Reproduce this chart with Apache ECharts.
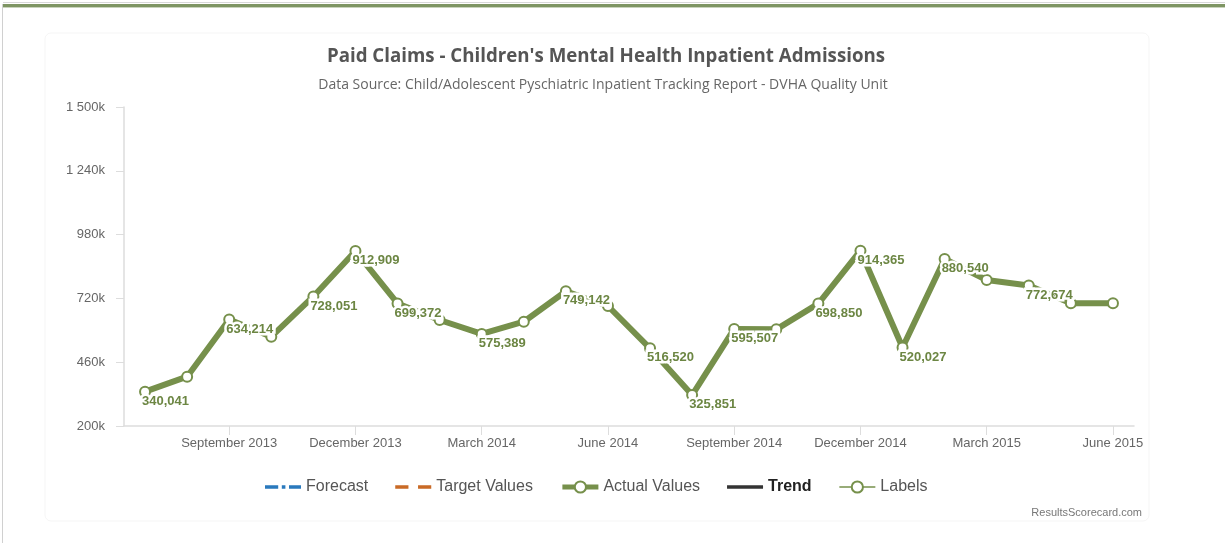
<!DOCTYPE html>
<html>
<head>
<meta charset="utf-8">
<title>Paid Claims - Children's Mental Health Inpatient Admissions</title>
<script src="https://cdn.jsdelivr.net/npm/echarts@6/dist/echarts.min.js"></script>
<style>
  html, body { margin: 0; padding: 0; background: #ffffff; }
  #chart { width: 1225px; height: 543px; }
</style>
</head>
<body>
<div id="chart"></div>
<script>
// Monthly paid claims, July 2013 - June 2015
const months = [
  'July 2013', 'August 2013', 'September 2013', 'October 2013', 'November 2013', 'December 2013',
  'January 2014', 'February 2014', 'March 2014', 'April 2014', 'May 2014', 'June 2014',
  'July 2014', 'August 2014', 'September 2014', 'October 2014', 'November 2014', 'December 2014',
  'January 2015', 'February 2015', 'March 2015', 'April 2015', 'May 2015', 'June 2015'
];

const actualValues = [
  340041, 401000, 634214, 564000, 728051, 912909,
  699372, 632000, 575389, 625000, 749142, 689000,
  516520, 325851, 595507, 594000, 698850, 914365,
  520027, 880540, 795000, 772674, 700000, 700000
];

// Months that carry a value label (null = no label)
const labelValues = [
  340041, null, 634214, null, 728051, 912909,
  699372, null, 575389, null, 749142, null,
  516520, 325851, 595507, null, 698850, 914365,
  520027, 880540, null, 772674, null, null
];

const forecastValues = [];
const targetValues = [];
const trendValues = [];

const yTicks = { min: 200000, max: 1500000, step: 260000 };

const GREEN = '#76904b';
const LABEL_GREEN = '#6c8643';

function yLabel(v) {
  const k = Math.round(v / 1000);
  if (k >= 1000) {
    return Math.floor(k / 1000) + ' ' + String(k % 1000).padStart(3, '0') + 'k';
  }
  return k + 'k';
}

const chart = echarts.init(document.getElementById('chart'), null, { renderer: 'canvas' });

const option = {
  backgroundColor: '#ffffff',
  animation: false,
  title: [
    {
      text: "Paid Claims - Children's Mental Health Inpatient Admissions",
      left: 601, top: 42, textAlign: 'center',
      textStyle: { fontFamily: 'Open Sans', fontWeight: 'bold', fontSize: 18.7, color: '#555555' }
    },
    {
      text: 'Data Source: Child/Adolescent Pyschiatric Inpatient Tracking Report - DVHA Quality Unit',
      left: 598, top: 73, textAlign: 'center',
      textStyle: { fontFamily: 'Open Sans', fontWeight: 'normal', fontSize: 14, color: '#666666' }
    },
    {
      text: 'ResultsScorecard.com',
      left: 1137, top: 502, textAlign: 'right',
      textStyle: { fontFamily: 'Liberation Sans', fontWeight: 'normal', fontSize: 11, color: '#777777' }
    }
  ],
  graphic: [
    { type: 'rect', shape: { x: 3, y: 2, width: 1222, height: 1 }, style: { fill: '#d8d8d8' }, silent: true },
    { type: 'rect', shape: { x: 3, y: 4, width: 1222, height: 3 }, style: { fill: '#7e9563' }, silent: true },
    { type: 'rect', shape: { x: 3, y: 7, width: 1222, height: 1 }, style: { fill: '#c9d3bc' }, silent: true },
    { type: 'rect', shape: { x: 2, y: 4, width: 1, height: 539 }, style: { fill: '#d0d0d0' }, silent: true },
    {
      type: 'rect', shape: { x: 45, y: 33, width: 1104, height: 488, r: 6 },
      style: { fill: 'none', stroke: 'rgba(0,0,0,0.04)', lineWidth: 1 }, silent: true, z: -1
    }
  ],
  legend: {
    left: 260,
    top: 474,
    itemWidth: 36,
    itemHeight: 14,
    itemGap: 27,
    textStyle: { fontFamily: 'Liberation Sans', fontSize: 16, color: '#555555' },
    data: [
      { name: 'Forecast', icon: 'path://M0,0h11v3h-11z M14,0h3v3h-3z M20,0h10v3h-10z', itemStyle: { color: '#2a79bd' } },
      { name: 'Target Values', icon: 'path://M0,0h11v3h-11z M19,0h11v3h-11z', itemStyle: { color: '#c96a26' } },
      {
        name: 'Actual Values',
        itemStyle: { color: GREEN },
        lineStyle: { color: GREEN, width: 5 }
      },
      { name: 'Trend', icon: 'path://M0,0h30v3h-30z', itemStyle: { color: '#333333' }, textStyle: { color: '#222222', fontWeight: 'bold' } },
      {
        name: 'Labels',
        itemStyle: { color: GREEN, opacity: 1 },
        lineStyle: { color: GREEN, width: 1.5, opacity: 1 }
      }
    ]
  },
  grid: { left: 124, right: 91, top: 107, bottom: 117, containLabel: false },
  xAxis: {
    type: 'category',
    data: months,
    boundaryGap: true,
    axisLine: { show: true, lineStyle: { color: '#dddddd', width: 1.5 } },
    axisTick: {
      show: true, alignWithLabel: true, length: 9,
      interval: (i) => i % 3 === 2,
      lineStyle: { color: '#dddddd' }
    },
    axisLabel: {
      interval: (i) => i % 3 === 2,
      margin: 11,
      fontFamily: 'Liberation Sans', fontSize: 13, color: '#666666'
    },
    splitLine: { show: false }
  },
  yAxis: {
    type: 'value',
    min: yTicks.min,
    max: yTicks.max,
    interval: yTicks.step,
    axisLine: { show: true, lineStyle: { color: '#dddddd', width: 1.5 } },
    axisTick: { show: true, length: 8, lineStyle: { color: '#dddddd' } },
    axisLabel: {
      margin: 19, formatter: yLabel,
      fontFamily: 'Liberation Sans', fontSize: 13, color: '#666666'
    },
    splitLine: { show: false }
  },
  series: [
    {
      name: 'Forecast', type: 'line', data: forecastValues, symbol: 'none',
      lineStyle: { color: '#2a79bd', width: 3, type: [10, 3, 3, 3] }, itemStyle: { color: '#2a79bd' }
    },
    {
      name: 'Target Values', type: 'line', data: targetValues, symbol: 'none',
      lineStyle: { color: '#c96a26', width: 3, type: 'dashed' }, itemStyle: { color: '#c96a26' }
    },
    {
      name: 'Actual Values', type: 'line', data: actualValues,
      symbol: 'emptyCircle', symbolSize: 10, showSymbol: true,
      lineStyle: { color: GREEN, width: 6 },
      itemStyle: { color: GREEN, borderColor: GREEN, borderWidth: 2 },
      z: 3
    },
    {
      name: 'Trend', type: 'line', data: trendValues, symbol: 'none',
      lineStyle: { color: '#333333', width: 3 }, itemStyle: { color: '#333333' }
    },
    {
      name: 'Labels', type: 'line', data: labelValues,
      symbol: 'emptyCircle', symbolSize: 1, showSymbol: true,
      itemStyle: { color: 'rgba(0,0,0,0)', borderWidth: 0 },
      lineStyle: { width: 0, opacity: 0 },
      connectNulls: false,
      z: 10,
      label: {
        show: true,
        position: 'inside',
        align: 'left',
        verticalAlign: 'top',
        offset: [-3, 3],
        formatter: (p) => p.value == null ? '' : Number(p.value).toLocaleString('en-US'),
        fontFamily: 'Liberation Sans',
        fontWeight: 'bold',
        fontSize: 13,
        color: LABEL_GREEN,
        textBorderColor: '#ffffff',
        textBorderWidth: 5
      }
    }
  ]
};

chart.setOption(option);
</script>
</body>
</html>
